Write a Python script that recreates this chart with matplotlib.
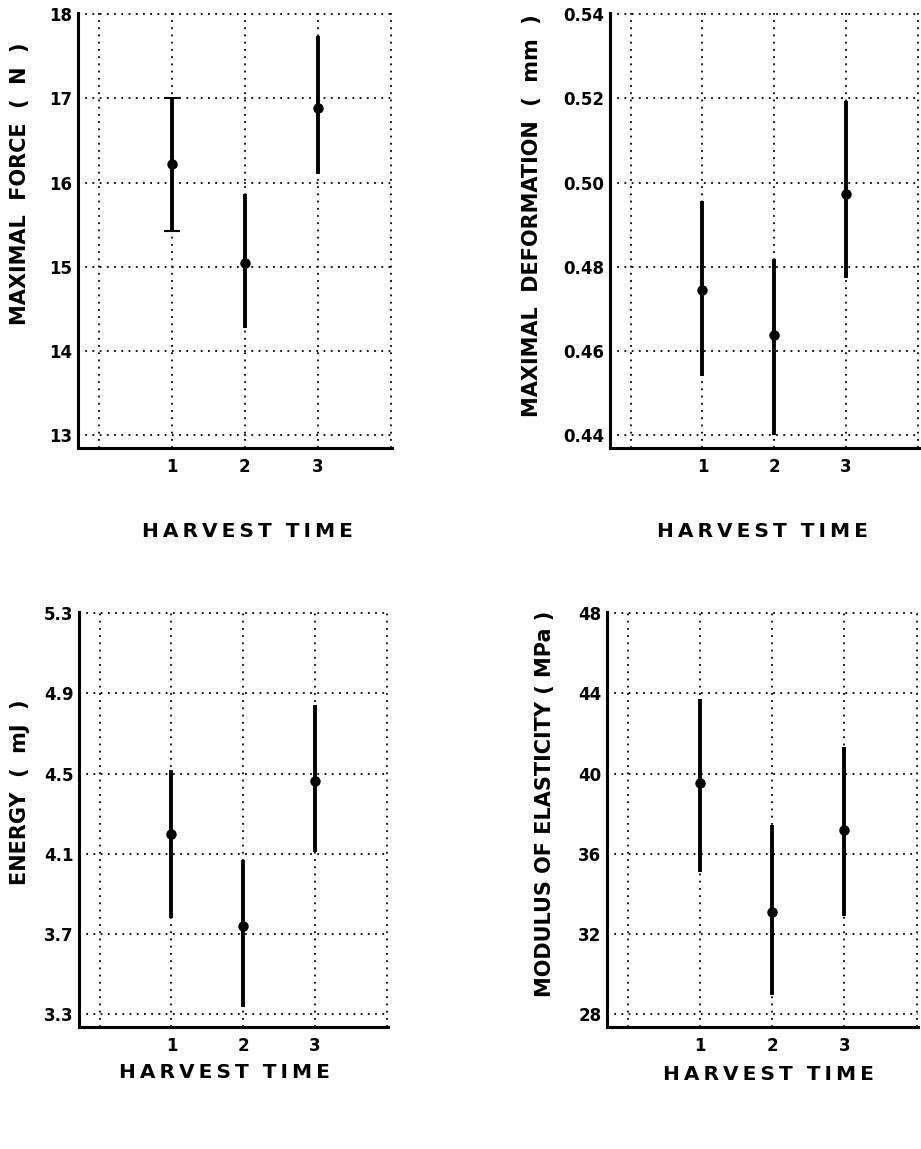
import matplotlib
matplotlib.use("Agg")
import matplotlib.pyplot as plt

W, H = 921, 1149

# harvest times
harvest = [1, 2, 3]

# maximal force (N)
force_mean = [16.22, 15.05, 16.89]
force_lo = [15.42, 14.27, 16.10]
force_hi = [17.00, 15.86, 17.74]

# maximal deformation (mm)
deform_mean = [0.4744, 0.4637, 0.4973]
deform_lo = [0.4540, 0.4400, 0.4774]
deform_hi = [0.4957, 0.4819, 0.5194]

# energy (mJ)
energy_mean = [4.196, 3.738, 4.464]
energy_lo = [3.778, 3.335, 4.106]
energy_hi = [4.519, 4.066, 4.842]

# modulus of elasticity (MPa)
moe_mean = [39.54, 33.07, 37.20]
moe_lo = [35.11, 28.95, 32.88]
moe_hi = [43.72, 37.45, 41.33]

force_ticks = [13, 14, 15, 16, 17, 18]
deform_ticks = [0.44, 0.46, 0.48, 0.50, 0.52, 0.54]
energy_ticks = [3.3, 3.7, 4.1, 4.5, 4.9, 5.3]
moe_ticks = [28, 32, 36, 40, 44, 48]

x_grid = [0, 1, 2, 3, 4]
x_labels = ["", "1", "2", "3", ""]

FONT = dict(fontfamily="DejaVu Sans", fontweight="bold")


def px_axes(fig, left, right, top, bottom):
    # axes box given in pixel coordinates of the target image
    return fig.add_axes([left / W, 1 - bottom / H, (right - left) / W, (bottom - top) / H])


def style_axes(ax, ticks, fmt, ylo):
    ax.set_xlim(-0.29, 4.02)
    ax.set_ylim(ylo, ticks[-1] + (ticks[-1] - ticks[0]) * 0.003)
    ax.set_yticks(ticks, [fmt.format(t) for t in ticks], fontsize=12, **FONT)
    ax.set_xticks(x_grid, x_labels, fontsize=12, **FONT)
    ax.tick_params(axis="y", length=0, pad=4)
    ax.tick_params(axis="x", length=0, pad=7)
    ax.grid(True, color="black", linestyle=(0, (1, 3)), linewidth=1.3)
    ax.set_axisbelow(True)
    for s in ("top", "right"):
        ax.spines[s].set_visible(False)
    for s in ("left", "bottom"):
        ax.spines[s].set_linewidth(2.2)


def draw_points(ax, mean, lo, hi, capped=()):
    for i, x in enumerate(harvest):
        err = [[mean[i] - lo[i]], [hi[i] - mean[i]]]
        ax.errorbar([x], [mean[i]], yerr=err, fmt="o", color="black",
                    markersize=6.5, elinewidth=2.8,
                    capsize=6 if i in capped else 0, capthick=1.5, zorder=3)


fig = plt.figure(figsize=(W / 100, H / 100), dpi=100)

ax1 = px_axes(fig, 78, 392, 13, 448)
style_axes(ax1, force_ticks, "{:g}", 12.846)
draw_points(ax1, force_mean, force_lo, force_hi, capped=(0,))

ax2 = px_axes(fig, 610, 919, 13, 448)
style_axes(ax2, deform_ticks, "{:.2f}", 0.4369)
draw_points(ax2, deform_mean, deform_lo, deform_hi)

ax3 = px_axes(fig, 79, 388, 612, 1027)
style_axes(ax3, energy_ticks, "{:.1f}", 3.235)
draw_points(ax3, energy_mean, energy_lo, energy_hi)

ax4 = px_axes(fig, 607, 918, 612, 1027)
style_axes(ax4, moe_ticks, "{:g}", 27.35)
draw_points(ax4, moe_mean, moe_lo, moe_hi)


def label(x, y, text, rot=0, size=15):
    fig.text(x / W, 1 - y / H, text, rotation=rot, ha="center", va="center",
             fontsize=size, **FONT)


xlab = "\u2009".join("HARVEST") + "  " + "\u2009".join("TIME")
label(247, 532, xlab, size=14.5)
label(762, 532, xlab, size=14.5)
label(224, 1072, xlab, size=14.5)
label(768, 1075, xlab, size=14.5)

label(20, 184, "MAXIMAL  FORCE  (  N  )", 90)
label(532, 216, "MAXIMAL  DEFORMATION  (  mm  )", 90)
label(20, 792, "ENERGY  (  mJ  )", 90)
label(545, 804, "MODULUS OF ELASTICITY ( MPa )", 90)

fig.savefig("out.png", dpi=100)
